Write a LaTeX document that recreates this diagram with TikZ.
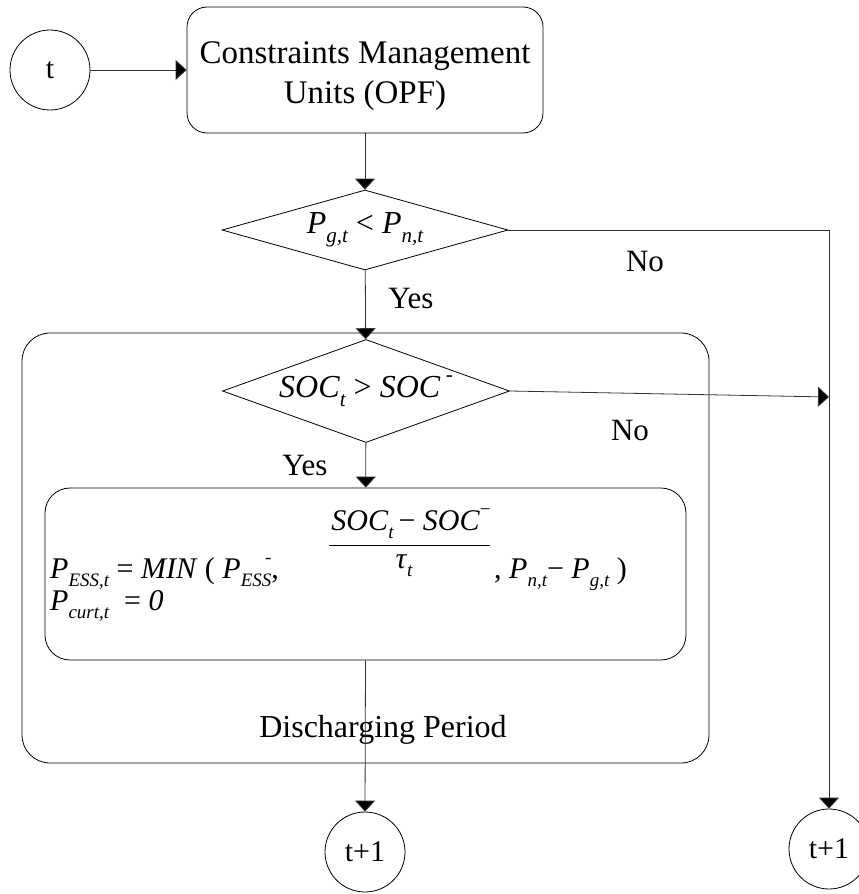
\documentclass[tikz,border=0pt]{standalone}
\usepackage{fontspec}
\setmainfont{Liberation Serif}
\usetikzlibrary{shapes.geometric,arrows.meta}

% small italic subscript / superscript for the hand-set formulas
\newcommand\sbx[1]{\raisebox{-0.28em}{\fontsize{19}{19}\selectfont\itshape #1}}
\newcommand\spx[1]{\raisebox{0.5em}{\fontsize{19}{19}\selectfont #1}}
\newcommand\sbxl[1]{\raisebox{-0.28em}{\fontsize{21}{21}\selectfont\itshape #1}}
\newcommand\spxl[1]{\raisebox{0.5em}{\fontsize{21}{21}\selectfont #1}}

\begin{document}
\begin{tikzpicture}[x=1pt,y=-1pt,
  txt/.style={font=\fontsize{30}{36}\selectfont},
  lbl/.style={font=\fontsize{31}{36}\selectfont},
  box/.style={draw, line width=0.8pt, rounded corners=20pt, inner sep=0pt},
  decision/.style={draw, line width=0.8pt, diamond, inner sep=0pt,
                   font=\fontsize{32}{38}\selectfont},
  term/.style={draw, line width=0.8pt, circle, minimum size=80pt, inner sep=0pt, txt},
  conn/.style={line width=0.8pt, draw=black!80, -{Triangle[length=11pt,width=20pt,fill=black]}},
  formula/.style={txt, anchor=base west, inner sep=0pt}]

\clip (0,0) rectangle (859,894);

% discharging period container
\node[box, rounded corners=28pt, minimum width=687pt, minimum height=430pt] (dp) at (365.5,548) {};
\node[font=\fontsize{32}{38}\selectfont] (dplabel) at (383,730) {Discharging Period};

% terminals
\node[term] (t) at (50,70) {t};
\node[term] (tl) at (365,852) {t+1};
\node[term] (tr) at (829,849) {t+1};

% constraints management box
\node[box, minimum width=356pt, minimum height=126pt] (cmu) at (365,70) {};
\node[align=center, font=\fontsize{33}{40}\selectfont] (cmutext) at (365,76)
      {Constraints Management\\Units (OPF)};

% decisions
\node[decision, aspect=3.6, minimum width=286pt, minimum height=80pt] (d1) at (365,230)
      {\textit{P}\sbxl{g,t} < \textit{P}\sbxl{n,t}};
\node[decision, aspect=2.8, minimum width=287pt, minimum height=103pt] (d2) at (366,391)
      {\textit{SOC}\sbxl{t} > \textit{SOC}\,\spxl{-}};

% discharge computation box
\node[box, rounded corners=25pt, minimum width=641pt, minimum height=172pt] (calc) at (365.5,574) {};
\node[formula] (fa) at (50,578)
  {\textit{P}\sbx{ESS,t} = \textit{MIN} ( \textit{P}\sbx{ESS}\llap{\spx{-}},};
\node[txt, anchor=base, inner sep=0pt] (fnum) at (411,530)
  {\textit{SOC}\sbx{t}\,− \textit{SOC}\spx{−}};
\node[txt, anchor=base, inner sep=0pt] (fden) at (404,568) {\textit{τ}\sbx{t}};
\coordinate (barl) at (329,545);
\coordinate (barr) at (490,545);
\draw[line width=0.9pt] (barl) -- (barr);
\node[formula] (fb) at (494,578)
  {, \textit{P}\sbx{n,t}− \textit{P}\sbx{g,t} )};
\node[formula] (f2) at (50,610)
  {\textit{P}\sbx{curt,t}\ \ = \textit{0}};

% connectors
\draw[conn] (t) -- (cmu);
\draw[conn] (cmu) -- (d1);
\draw[conn] (d1) -- (d2);
\draw[conn] (d2) -- (calc);
\draw[conn] (calc.south) -- (tl.north);
\draw[conn] (d1.east) -| (tr.north);
\coordinate (hit) at (829,397);
\draw[conn] (d2.east) -- (hit);

% branch labels
\node[lbl] (yes1) at (411,298) {Yes};
\node[lbl] (no1) at (645,261) {No};
\node[lbl] (yes2) at (305,465) {Yes};
\node[lbl] (no2) at (630,430) {No};
\end{tikzpicture}
\end{document}
